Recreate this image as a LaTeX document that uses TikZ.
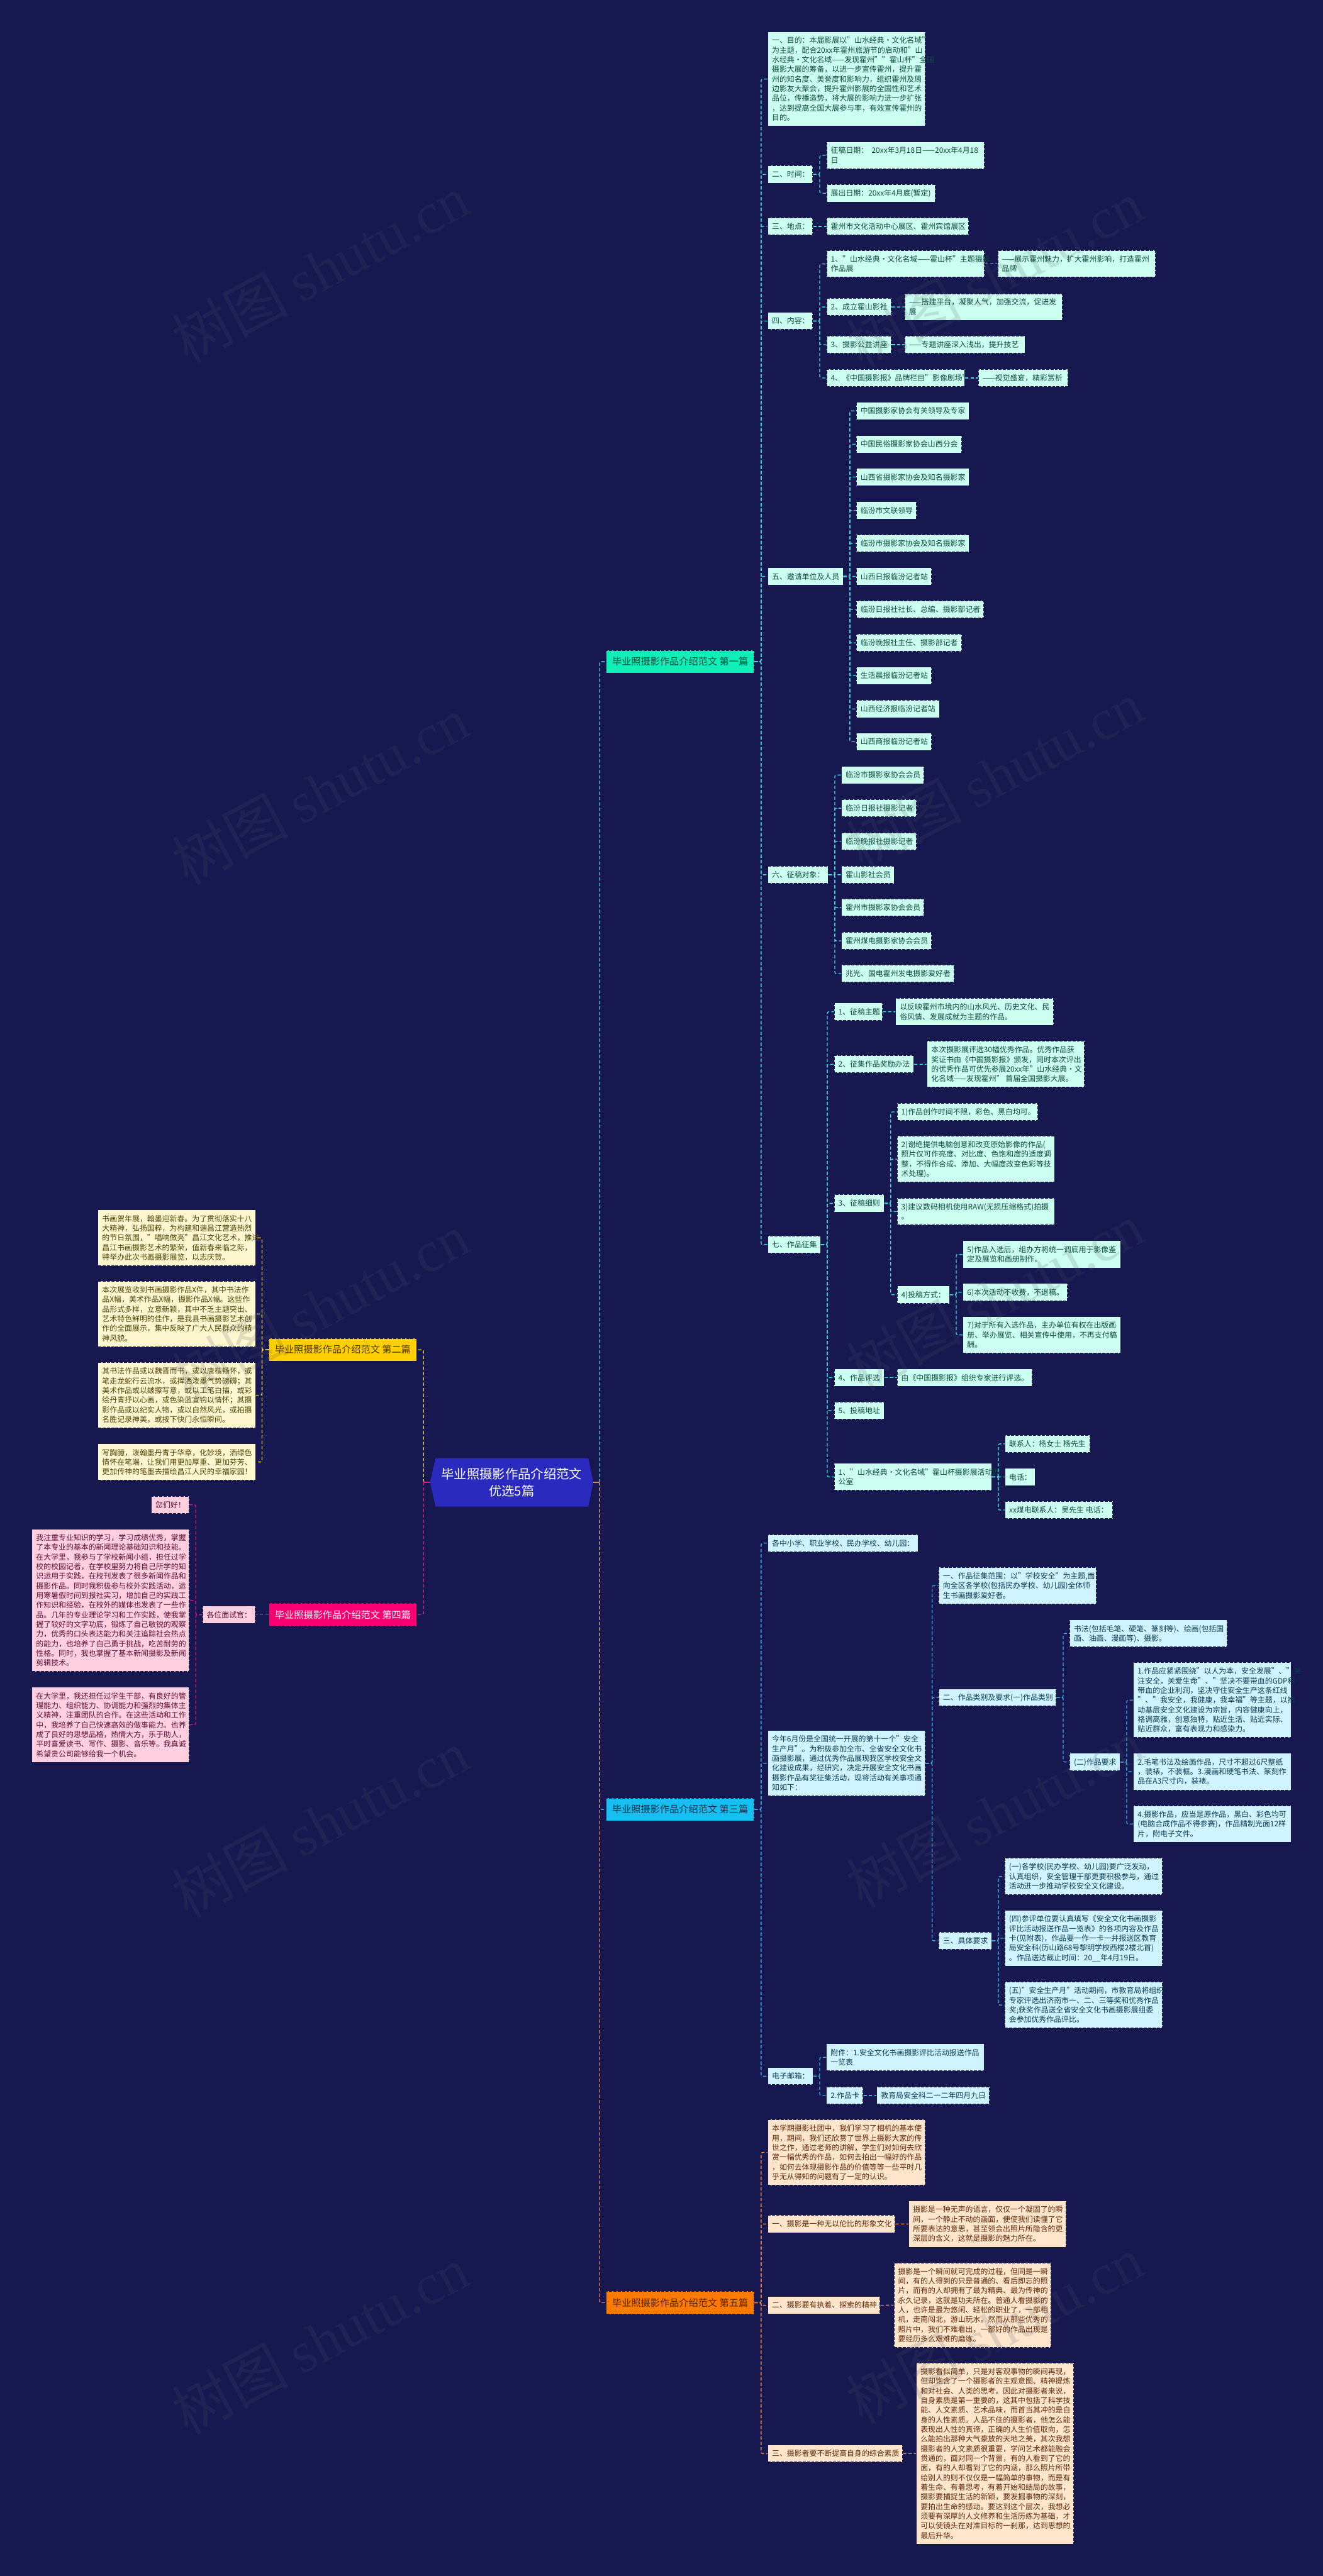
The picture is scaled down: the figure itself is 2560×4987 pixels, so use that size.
\documentclass[tikz,border=0pt]{standalone}
\usepackage{fontspec}
\setmainfont{Noto Sans CJK SC}
\newfontfamily\wmlat{Liberation Serif}
\definecolor{bgc}{HTML}{171850}
\definecolor{rootc}{HTML}{2A2ABF}
\definecolor{lA}{HTML}{3FD8DC}
\definecolor{lB}{HTML}{3AAEE8}
\definecolor{lC}{HTML}{E8854A}
\definecolor{lD}{HTML}{F0CD52}
\definecolor{lE}{HTML}{D81B7A}
\definecolor{wmc}{HTML}{4C5564}
\newcommand{\lnst}{\rule[-1.915pt]{0pt}{9.33pt}}
\newcommand{\mybox}[7]{%
  \pgfmathsetmacro\myBW{(#4-#2)*0.5}%
  \pgfmathsetmacro\myBH{(#5-#3)*0.5}%
  \pgfmathsetmacro\myTW{\myBW-8}%
  \node[boxbase,#6,minimum width=\myBW pt,minimum height=\myBH pt] (#1) at ({(#2+#4)/2},{(#3+#5)/2}) {\makebox[\myTW pt][l]{\vbox{\def\\{\cr}\halign{##\hfil\cr\lnst #7\lnst\crcr}}}};}
\newcommand{\cnxR}[4]{\draw[cn,#1] (#2.east) -- (#2.east -| #3) -- (#4.west -| #3) -- (#4.west);}
\newcommand{\cnxL}[4]{\draw[cn,#1] (#2.west) -- (#2.west -| #3) -- (#4.east -| #3) -- (#4.east);}
\newcommand{\cnxS}[3]{\draw[cn,#1] (#2.east) -- (#3.west);}
\tikzset{
  boxbase/.style={rectangle,draw=bgc,line width=0.7pt,dash pattern=on 3pt off 1.2pt,inner xsep=4pt,inner ysep=0pt,font=\fontsize{7.25}{9.33}\selectfont},
  boxA/.style={fill={rgb,255:red,204;green,255;blue,240},text={rgb,255:red,13;green,74;blue,64}},
  boxB/.style={fill={rgb,255:red,208;green,244;blue,255},text={rgb,255:red,10;green,58;blue,80}},
  boxC/.style={fill={rgb,255:red,255;green,229;blue,204},text={rgb,255:red,90;green,42;blue,8}},
  boxD/.style={fill={rgb,255:red,255;green,247;blue,207},text={rgb,255:red,79;green,66;blue,8}},
  boxE/.style={fill={rgb,255:red,255;green,207;blue,224},text={rgb,255:red,90;green,15;blue,53}},
  brn/.style={rectangle,draw=bgc,line width=0.7pt,dash pattern=on 3pt off 1.2pt,minimum width=143pt,minimum height=22pt,inner sep=0pt,font=\fontsize{9.25}{12}\selectfont},
  cn/.style={line width=0.8pt,dash pattern=on 3.2pt off 2pt,rounded corners=1.5pt},
  lnA/.style={draw=lA}, lnB/.style={draw=lB}, lnC/.style={draw=lC}, lnD/.style={draw=lD}, lnE/.style={draw=lE},
  wmk/.style={rotate=28,text=wmc,opacity=0.17,font=\fontsize{56}{60}\selectfont,inner sep=0pt}
}
\begin{document}
\begin{tikzpicture}[x=0.5pt,y=-0.5pt]
\path[use as bounding box,fill=bgc] (0,0) rectangle (2560,4987);
% buses
\foreach \nm/\xx in {b379/379,b507/507,bL/819.6,bR/1160.4,b1473/1473,b1586/1586.5,b1601/1601,b1615/1615.6,b1644/1644.7,b1723/1723.7,b1804/1804,b1850/1850.7,b1932/1932,b2057/2057.7,b2180/2180.5}{\coordinate (\nm) at (\xx,0);}
% root
\fill[rootc] (842.8,2823) -- (1138.7,2823) -- (1148,2869.7) -- (1138.7,2916.7) -- (842.8,2916.7) -- (832.4,2869.7) -- cycle;
\node[minimum width=157.8pt,minimum height=46.8pt,inner sep=0pt,align=center,text=white,font=\fontsize{12.4}{16.15}\selectfont] (root) at (990.2,2869.7) {毕业照摄影作品介绍范文\\优选5篇};
% branches
\node[brn,fill={rgb,255:red,16;green,239;blue,184},text={rgb,255:red,10;green,74;blue,58}] (b1) at (1316.3,1281) {毕业照摄影作品介绍范文~第一篇};
\node[brn,fill={rgb,255:red,255;green,207;blue,0},text={rgb,255:red,74;green,58;blue,0}] (b2) at (663.4,2613) {毕业照摄影作品介绍范文~第二篇};
\node[brn,fill={rgb,255:red,22;green,191;blue,240},text={rgb,255:red,5;green,50;blue,75}] (b3) at (1316.3,3503) {毕业照摄影作品介绍范文~第三篇};
\node[brn,fill={rgb,255:red,248;green,0;blue,113},text=white] (b4) at (663.6,3126) {毕业照摄影作品介绍范文~第四篇};
\node[brn,fill={rgb,255:red,255;green,122;blue,0},text={rgb,255:red,80;green,35;blue,0}] (b5) at (1316.3,4458) {毕业照摄影作品介绍范文~第五篇};
% ---- part 1
\mybox{a1}{1486}{62}{1791}{244}{boxA}{一、目的：本届影展以"山水经典·文化名域"\\为主题，配合20xx年霍州旅游节的启动和"山\\水经典·文化名域——发现霍州""霍山杯"全国\\摄影大展的筹备，以进一步宣传霍州，提升霍\\州的知名度、美誉度和影响力，组织霍州及周\\边影友大聚会，提升霍州影展的全国性和艺术\\品位，传播造势，将大展的影响力进一步扩张\\，达到提高全国大展参与率，有效宣传霍州的\\目的。}
\mybox{a2}{1486}{320.5}{1573}{354.5}{boxA}{二、时间：}
\mybox{a21}{1600}{274.6}{1905}{327}{boxA}{征稿日期：~~20xx年3月18日——20xx年4月18\\日}
\mybox{a22}{1600}{357}{1810}{391}{boxA}{展出日期：20xx年4月底(暂定)}
\mybox{a3}{1486}{421.5}{1573}{455}{boxA}{三、地点：}
\mybox{a31}{1600}{421.5}{1875}{455}{boxA}{霍州市文化活动中心展区、霍州宾馆展区}
\mybox{a4}{1486}{605}{1573}{638}{boxA}{四、内容：}
\mybox{a41}{1600}{485}{1905}{537}{boxA}{1、"山水经典·文化名域——霍山杯"主题摄影\\作品展}
\mybox{a411}{1931}{485}{2236}{537}{boxA}{——展示霍州魅力，扩大霍州影响，打造霍州\\品牌}
\mybox{a42}{1600}{577.6}{1725}{611}{boxA}{2、成立霍山影社}
\mybox{a421}{1751}{568.5}{2056}{620}{boxA}{——搭建平台，凝聚人气，加强交流，促进发\\展}
\mybox{a43}{1600}{650.6}{1725}{684}{boxA}{3、摄影公益讲座}
\mybox{a431}{1751}{650.6}{1983.5}{684}{boxA}{——专题讲座深入浅出，提升技艺}
\mybox{a44}{1600}{715}{1867}{748.5}{boxA}{4、《中国摄影报》品牌栏目"影像剧场"}
\mybox{a441}{1893.5}{715}{2067}{748.5}{boxA}{——视觉盛宴，精彩赏析}
\mybox{a5}{1486}{1099.2}{1631.6}{1132.8}{boxA}{五、邀请单位及人员}
\mybox{a501}{1657.3}{778.7}{1875.4}{812.3}{boxA}{中国摄影家协会有关领导及专家}
\mybox{a502}{1657.3}{843.2}{1861}{876.8}{boxA}{中国民俗摄影家协会山西分会}
\mybox{a503}{1657.3}{906.7}{1875.4}{940.3}{boxA}{山西省摄影家协会及知名摄影家}
\mybox{a504}{1657.3}{971.2}{1774}{1004.8}{boxA}{临汾市文联领导}
\mybox{a505}{1657.3}{1035.2}{1875.4}{1068.8}{boxA}{临汾市摄影家协会及知名摄影家}
\mybox{a506}{1657.3}{1099.2}{1803}{1132.8}{boxA}{山西日报临汾记者站}
\mybox{a507}{1657.3}{1163.2}{1904}{1196.8}{boxA}{临汾日报社社长、总编、摄影部记者}
\mybox{a508}{1657.3}{1227.7}{1861}{1261.3}{boxA}{临汾晚报社主任、摄影部记者}
\mybox{a509}{1657.3}{1291.2}{1803}{1324.8}{boxA}{生活晨报临汾记者站}
\mybox{a510}{1657.3}{1355.7}{1818}{1389.3}{boxA}{山西经济报临汾记者站}
\mybox{a511}{1657.3}{1419.2}{1803}{1452.8}{boxA}{山西商报临汾记者站}
\mybox{a6}{1486}{1676.6}{1602.5}{1710.2}{boxA}{六、征稿对象：}
\mybox{a61}{1628.7}{1483.6}{1788.6}{1517.2}{boxA}{临汾市摄影家协会会员}
\mybox{a62}{1628.7}{1547.9}{1774}{1581.5}{boxA}{临汾日报社摄影记者}
\mybox{a63}{1628.7}{1612.2}{1774}{1645.8}{boxA}{临汾晚报社摄影记者}
\mybox{a64}{1628.7}{1676.6}{1730.5}{1710.2}{boxA}{霍山影社会员}
\mybox{a65}{1628.7}{1740.2}{1788.6}{1773.8}{boxA}{霍州市摄影家协会会员}
\mybox{a66}{1628.7}{1804.6}{1803}{1838.2}{boxA}{霍州煤电摄影家协会会员}
\mybox{a67}{1628.7}{1868.2}{1847}{1901.8}{boxA}{兆光、国电霍州发电摄影爱好者}
\mybox{a7}{1486}{2392.6}{1588}{2426}{boxA}{七、作品征集}
\mybox{a71}{1614.6}{1941.8}{1707.7}{1975.7}{boxA}{1、征稿主题}
\mybox{a711}{1733.4}{1932.6}{2038.8}{1985}{boxA}{以反映霍州市境内的山水风光、历史文化、民\\俗风情、发展成就为主题的作品。}
\mybox{a72}{1614.6}{2043.6}{1768.3}{2077}{boxA}{2、征集作品奖励办法}
\mybox{a721}{1794.5}{2015.5}{2099}{2105}{boxA}{本次摄影展评选30幅优秀作品。优秀作品获\\奖证书由《中国摄影报》颁发，同时本次评出\\的优秀作品可优先参展20xx年"山水经典·文\\化名域——发现霍州"~首届全国摄影大展。}
\mybox{a73}{1614.6}{2312.6}{1711}{2346.6}{boxA}{3、征稿细则}
\mybox{a731}{1736.3}{2135.7}{2008.7}{2169.6}{boxA}{1)作品创作时间不限，彩色、黑白均可。}
\mybox{a732}{1736.3}{2199.2}{2041}{2288.9}{boxA}{2)谢绝提供电脑创意和改变原始影像的作品(\\照片仅可作亮度、对比度、色饱和度的适度调\\整，不得作合成、添加、大幅度改变色彩等技\\术处理)。}
\mybox{a733}{1736.3}{2319.4}{2041}{2371.8}{boxA}{3)建议数码相机使用RAW(无损压缩格式)拍摄\\。}
\mybox{a734}{1736.3}{2489.6}{1837.6}{2523.5}{boxA}{4)投稿方式：}
\mybox{a7341}{1863.8}{2401.8}{2168.7}{2454.7}{boxA}{5)作品入选后，组办方将统一调底用于影像鉴\\定及展览和画册制作。}
\mybox{a7342}{1863.8}{2484.7}{2066}{2518.6}{boxA}{6)本次活动不收费，不退稿。}
\mybox{a7343}{1863.8}{2549.2}{2168.7}{2619.5}{boxA}{7)对于所有入选作品，主办单位有权在出版画\\册、举办展览、相关宣传中使用，不再支付稿\\酬。}
\mybox{a74}{1614.6}{2650}{1711}{2684}{boxA}{4、作品评选}
\mybox{a741}{1736.3}{2650}{1998}{2684}{boxA}{由《中国摄影报》组织专家进行评选。}
\mybox{a75}{1614.6}{2714}{1711}{2747.7}{boxA}{5、投稿地址}
\mybox{a76}{1614.6}{2833}{1919}{2885.4}{boxA}{1、"山水经典·文化名域"霍山杯摄影展活动办\\公室}
\mybox{a761}{1945}{2778.5}{2109.5}{2812}{boxA}{联系人：杨女士~杨先生}
\mybox{a762}{1945}{2842.7}{2003}{2876}{boxA}{电话：}
\mybox{a763}{1945}{2906.6}{2153.6}{2940}{boxA}{xx煤电联系人：吴先生~电话：}
% ---- part 3
\mybox{c1}{1486}{2970.8}{1776.5}{3004.3}{boxB}{各中小学、职业学校、民办学校、幼儿园：}
\mybox{c2}{1486}{3350}{1790.6}{3477}{boxB}{今年6月份是全国统一开展的第十一个"安全\\生产月"。为积极参加全市、全省安全文化书\\画摄影展，通过优秀作品展现我区学校安全文\\化建设成果，经研究，决定开展安全文化书画\\摄影作品有奖征集活动，现将活动有关事项通\\知如下：}
\mybox{c21}{1817}{3034}{2121.7}{3105.4}{boxB}{一、作品征集范围：以"学校安全"为主题,面\\向全区各学校(包括民办学校、幼儿园)全体师\\生书画摄影爱好者。}
\mybox{c22}{1817}{3269.7}{2044}{3303}{boxB}{二、作品类别及要求(一)作品类别}
\mybox{c221}{2070.3}{3136}{2375}{3188.3}{boxB}{书法(包括毛笔、硬笔、篆刻等)、绘画(包括国\\画、油画、漫画等)、摄影。}
\mybox{c222}{2070.3}{3394}{2167.6}{3428.3}{boxB}{(二)作品要求}
\mybox{c2221}{2193.8}{3218.3}{2498.7}{3364}{boxB}{1.作品应紧紧围绕"以人为本，安全发展"、"关\\注安全，关爱生命"、"坚决不要带血的GDP和\\带血的企业利润，坚决守住安全生产这条红线\\"、"我安全，我健康，我幸福"等主题，以推\\动基层安全文化建设为宗旨，内容健康向上，\\格调高雅，创意独特，贴近生活、贴近实际、\\贴近群众，富有表现力和感染力。}
\mybox{c2222}{2193.8}{3394}{2498.7}{3465.7}{boxB}{2.毛笔书法及绘画作品，尺寸不超过6尺整纸\\，装裱，不装框。3.漫画和硬笔书法、篆刻作\\品在A3尺寸内，装裱。}
\mybox{c2223}{2193.8}{3495.7}{2498.7}{3566.7}{boxB}{4.摄影作品，应当是原作品，黑白、彩色均可\\(电脑合成作品不得参赛)，作品精制光面12样\\片，附电子文件。}
\mybox{c23}{1817}{3740.6}{1919}{3773.8}{boxB}{三、具体要求}
\mybox{c231}{1944.7}{3597}{2249.5}{3668}{boxB}{(一)各学校(民办学校、幼儿园)要广泛发动，\\认真组织，安全管理干部更要积极参与，通过\\活动进一步推动学校安全文化建设。}
\mybox{c232}{1944.7}{3698.4}{2249.5}{3806.4}{boxB}{(四)参评单位要认真填写《安全文化书画摄影\\评比活动报送作品一览表》的各项内容及作品\\卡(见附表)，作品要一作一卡一并报送区教育\\局安全科(历山路68号黎明学校西楼2楼北首)\\。作品送达截止时间：20\_\_年4月19日。}
\mybox{c233}{1944.7}{3836.8}{2249.5}{3926.5}{boxB}{(五)"安全生产月"活动期间，市教育局将组织\\专家评选出济南市一、二、三等奖和优秀作品\\奖;获奖作品送全省安全文化书画摄影展组委\\会参加优秀作品评比。}
\mybox{c3}{1486}{4002.8}{1573.4}{4036}{boxB}{电子邮箱：}
\mybox{c31}{1599.6}{3956.5}{1904.5}{4009}{boxB}{附件：1.安全文化书画摄影评比活动报送作品\\一览表}
\mybox{c32}{1599.6}{4039.8}{1670.4}{4073.5}{boxB}{2.作品卡}
\mybox{c321}{1697}{4039.8}{1914.7}{4073.5}{boxB}{教育局安全科二一二年四月九日}
% ---- part 5
\mybox{e1}{1486}{4103.5}{1790.6}{4230.4}{boxC}{本学期摄影社团中，我们学习了相机的基本使\\用，期间，我们还欣赏了世界上摄影大家的传\\世之作，通过老师的讲解，学生们对如何去欣\\赏一幅优秀的作品，如何去拍出一幅好的作品\\，如何去体现摄影作品的价值等等一些平时几\\乎无从得知的问题有了一定的认识。}
\mybox{e2}{1486}{4288.4}{1732.4}{4322.3}{boxC}{一、摄影是一种无以伦比的形象文化}
\mybox{e21}{1759}{4260.8}{2063.5}{4350.4}{boxC}{摄影是一种无声的语言，仅仅一个凝固了的瞬\\间，一个静止不动的画面，便使我们读懂了它\\所要表达的意思，甚至领会出照片所隐含的更\\深层的含义，这就是摄影的魅力所在。}
\mybox{e3}{1486}{4446}{1703.3}{4479.5}{boxC}{二、摄影要有执着、探索的精神}
\mybox{e31}{1730}{4380.8}{2034.4}{4544.4}{boxC}{摄影是一个瞬间就可完成的过程，但同是一瞬\\间，有的人得到的只是普通的、看后即忘的照\\片，而有的人却拥有了最为精典、最为传神的\\永久记录，这就是功夫所在。普通人看摄影的\\人，也许是最为悠闲、轻松的职业了，一部相\\机，走南闯北，游山玩水。然而从那些优秀的\\照片中，我们不难看出，一部好的作品出现是\\要经历多么艰难的磨练。}
\mybox{e4}{1486}{4733.3}{1747}{4766.6}{boxC}{三、摄影者要不断提高自身的综合素质}
\mybox{e41}{1773.6}{4574.8}{2078}{4925}{boxC}{摄影看似简单，只是对客观事物的瞬间再现，\\但却饱含了一个摄影者的主观意图、精神提炼\\和对社会、人类的思考。因此对摄影者来说，\\自身素质是第一重要的，这其中包括了科学技\\能、人文素质、艺术品味，而首当其冲的是自\\身的人性素质。人品不佳的摄影者，他怎么能\\表现出人性的真谛，正确的人生价值取向，怎\\么能拍出那种大气豪放的天地之美，其次我想\\摄影者的人文素质很重要，学问艺术都能融会\\贯通的，面对同一个背景，有的人看到了它的\\面，有的人却看到了它的内涵，那么照片所带\\给别人的则不仅仅是一幅简单的事物，而是有\\着生命、有着思考，有着开始和结局的故事，\\摄影要捕捉生活的新颖，要发掘事物的深刻，\\要拍出生命的感动。要达到这个层次，我想必\\须要有深厚的人文修养和生活历练为基础，才\\可以使镜头在对准目标的一刹那，达到思想的\\最后升华。}
% ---- part 2
\mybox{d1}{189.8}{2342}{494.7}{2450.7}{boxD}{书画贺年展，翰墨迎新春。为了贯彻落实十八\\大精神，弘扬国粹，为构建和谐昌江营造热烈\\的节日氛围，"唱响做亮"昌江文化艺术，推进\\昌江书画摄影艺术的繁荣，值新春来临之际，\\特举办此次书画摄影展览，以志庆贺。}
\mybox{d2}{189.8}{2480}{494.7}{2607.5}{boxD}{本次展览收到书画摄影作品X件，其中书法作\\品X幅，美术作品X幅，摄影作品X幅。这些作\\品形式多样，立意新颖，其中不乏主题突出、\\艺术特色鲜明的佳作，是我县书画摄影艺术创\\作的全面展示，集中反映了广大人民群众的精\\神风貌。}
\mybox{d3}{189.8}{2637.5}{494.7}{2764.6}{boxD}{其书法作品或以魏晋而书，或以唐楷畅怀，或\\笔走龙蛇行云流水，或挥洒泼墨气势磅礴；其\\美术作品或以皴擦写意，或以工笔白描，或彩\\绘丹青抒以心画，或色染蓝宣钩以情怀；其摄\\影作品或以纪实人物，或以自然风光，或拍摄\\名胜记录神美，或按下快门永恒瞬间。}
\mybox{d4}{189.8}{2795}{494.7}{2866}{boxD}{写胸臆，泼翰墨丹青于华章，化妙境，洒绿色\\情怀在笔端，让我们用更加厚重、更加芬芳、\\更加传神的笔墨去描绘昌江人民的幸福家园！}
% ---- part 4
\mybox{f0}{392}{3109}{494}{3143}{boxE}{各位面试官：}
\mybox{f1}{292.9}{2896.4}{366.4}{2930}{boxE}{您们好！}
\mybox{f2}{62}{2960.4}{366.4}{3236}{boxE}{我注重专业知识的学习，学习成绩优秀，掌握\\了本专业的基本的新闻理论基础知识和技能。\\在大学里，我参与了学校新闻小组，担任过学\\校的校园记者，在学校里努力将自己所学的知\\识运用于实践，在校刊发表了很多新闻作品和\\摄影作品。同时我积极参与校外实践活动，运\\用寒暑假时间到报社实习，增加自己的实践工\\作知识和经验，在校外的媒体也发表了一些作\\品。几年的专业理论学习和工作实践，使我掌\\握了较好的文字功底，锻炼了自己敏锐的观察\\力，优秀的口头表达能力和关注追踪社会热点\\的能力，也培养了自己勇于挑战，吃苦耐劳的\\性格。同时，我也掌握了基本新闻摄影及新闻\\剪辑技术。}
\mybox{f3}{62}{3266.4}{366.4}{3411.8}{boxE}{在大学里，我还担任过学生干部，有良好的管\\理能力、组织能力、协调能力和强烈的集体主\\义精神，注重团队的合作。在这些活动和工作\\中，我培养了自己快速高效的做事能力。也养\\成了良好的思想品格，热情大方，乐于助人，\\平时喜爱读书、写作、摄影、音乐等。我真诚\\希望贵公司能够给我一个机会。}
% ---- connectors
\cnxR{lnA}{root}{bR}{b1}
\cnxR{lnB}{root}{bR}{b3}
\cnxR{lnC}{root}{bR}{b5}
\cnxL{lnD}{root}{bL}{b2}
\cnxL{lnE}{root}{bL}{b4}
\draw[line width=1.1pt,lC] (root.east) -- (root.east -| bR);
\draw[line width=1.1pt,lE] (root.west) -- (root.west -| bL);
\foreach \ch in {a1,a2,a3,a4,a5,a6,a7}{\cnxR{lnA}{b1}{b1473}{\ch}}
\cnxR{lnA}{a2}{b1586}{a21}\cnxR{lnA}{a2}{b1586}{a22}
\cnxS{lnA}{a3}{a31}
\foreach \ch in {a41,a42,a43,a44}{\cnxR{lnA}{a4}{b1586}{\ch}}
\cnxS{lnA}{a41}{a411}\cnxS{lnA}{a42}{a421}\cnxS{lnA}{a43}{a431}\cnxS{lnA}{a44}{a441}
\foreach \ch in {a501,a502,a503,a504,a505,a506,a507,a508,a509,a510,a511}{\cnxR{lnA}{a5}{b1644}{\ch}}
\foreach \ch in {a61,a62,a63,a64,a65,a66,a67}{\cnxR{lnA}{a6}{b1615}{\ch}}
\foreach \ch in {a71,a72,a73,a74,a75,a76}{\cnxR{lnA}{a7}{b1601}{\ch}}
\cnxS{lnA}{a71}{a711}\cnxS{lnA}{a72}{a721}\cnxS{lnA}{a74}{a741}
\foreach \ch in {a731,a732,a733,a734}{\cnxR{lnA}{a73}{b1723}{\ch}}
\foreach \ch in {a7341,a7342,a7343}{\cnxR{lnA}{a734}{b1850}{\ch}}
\foreach \ch in {a761,a762,a763}{\cnxR{lnA}{a76}{b1932}{\ch}}
\foreach \ch in {c1,c2,c3}{\cnxR{lnB}{b3}{b1473}{\ch}}
\foreach \ch in {c21,c22,c23}{\cnxR{lnB}{c2}{b1804}{\ch}}
\foreach \ch in {c221,c222}{\cnxR{lnB}{c22}{b2057}{\ch}}
\foreach \ch in {c2221,c2222,c2223}{\cnxR{lnB}{c222}{b2180}{\ch}}
\foreach \ch in {c231,c232,c233}{\cnxR{lnB}{c23}{b1932}{\ch}}
\foreach \ch in {c31,c32}{\cnxR{lnB}{c3}{b1586}{\ch}}
\cnxS{lnB}{c32}{c321}
\foreach \ch in {e1,e2,e3,e4}{\cnxR{lnC}{b5}{b1473}{\ch}}
\cnxS{lnC}{e2}{e21}\cnxS{lnC}{e3}{e31}\cnxS{lnC}{e4}{e41}
\foreach \ch in {d1,d2,d3,d4}{\cnxL{lnD}{b2}{b507}{\ch}}
\draw[cn,lnE] (b4.west) -- (f0.east);
\foreach \ch in {f1,f2,f3}{\cnxL{lnE}{f0}{b379}{\ch}}
% ---- watermarks
\foreach \wx/\wy [count=\wi] in {620/520,620/1530,620/2530,620/3530,620/4530,1925/530,1925/1500,1925/2510,1925/3510,1925/4510}{
  \node[wmk] (wm\wi) at (\wx,\wy) {树图~{\wmlat shutu.cn}};
}
\end{tikzpicture}
\end{document}
